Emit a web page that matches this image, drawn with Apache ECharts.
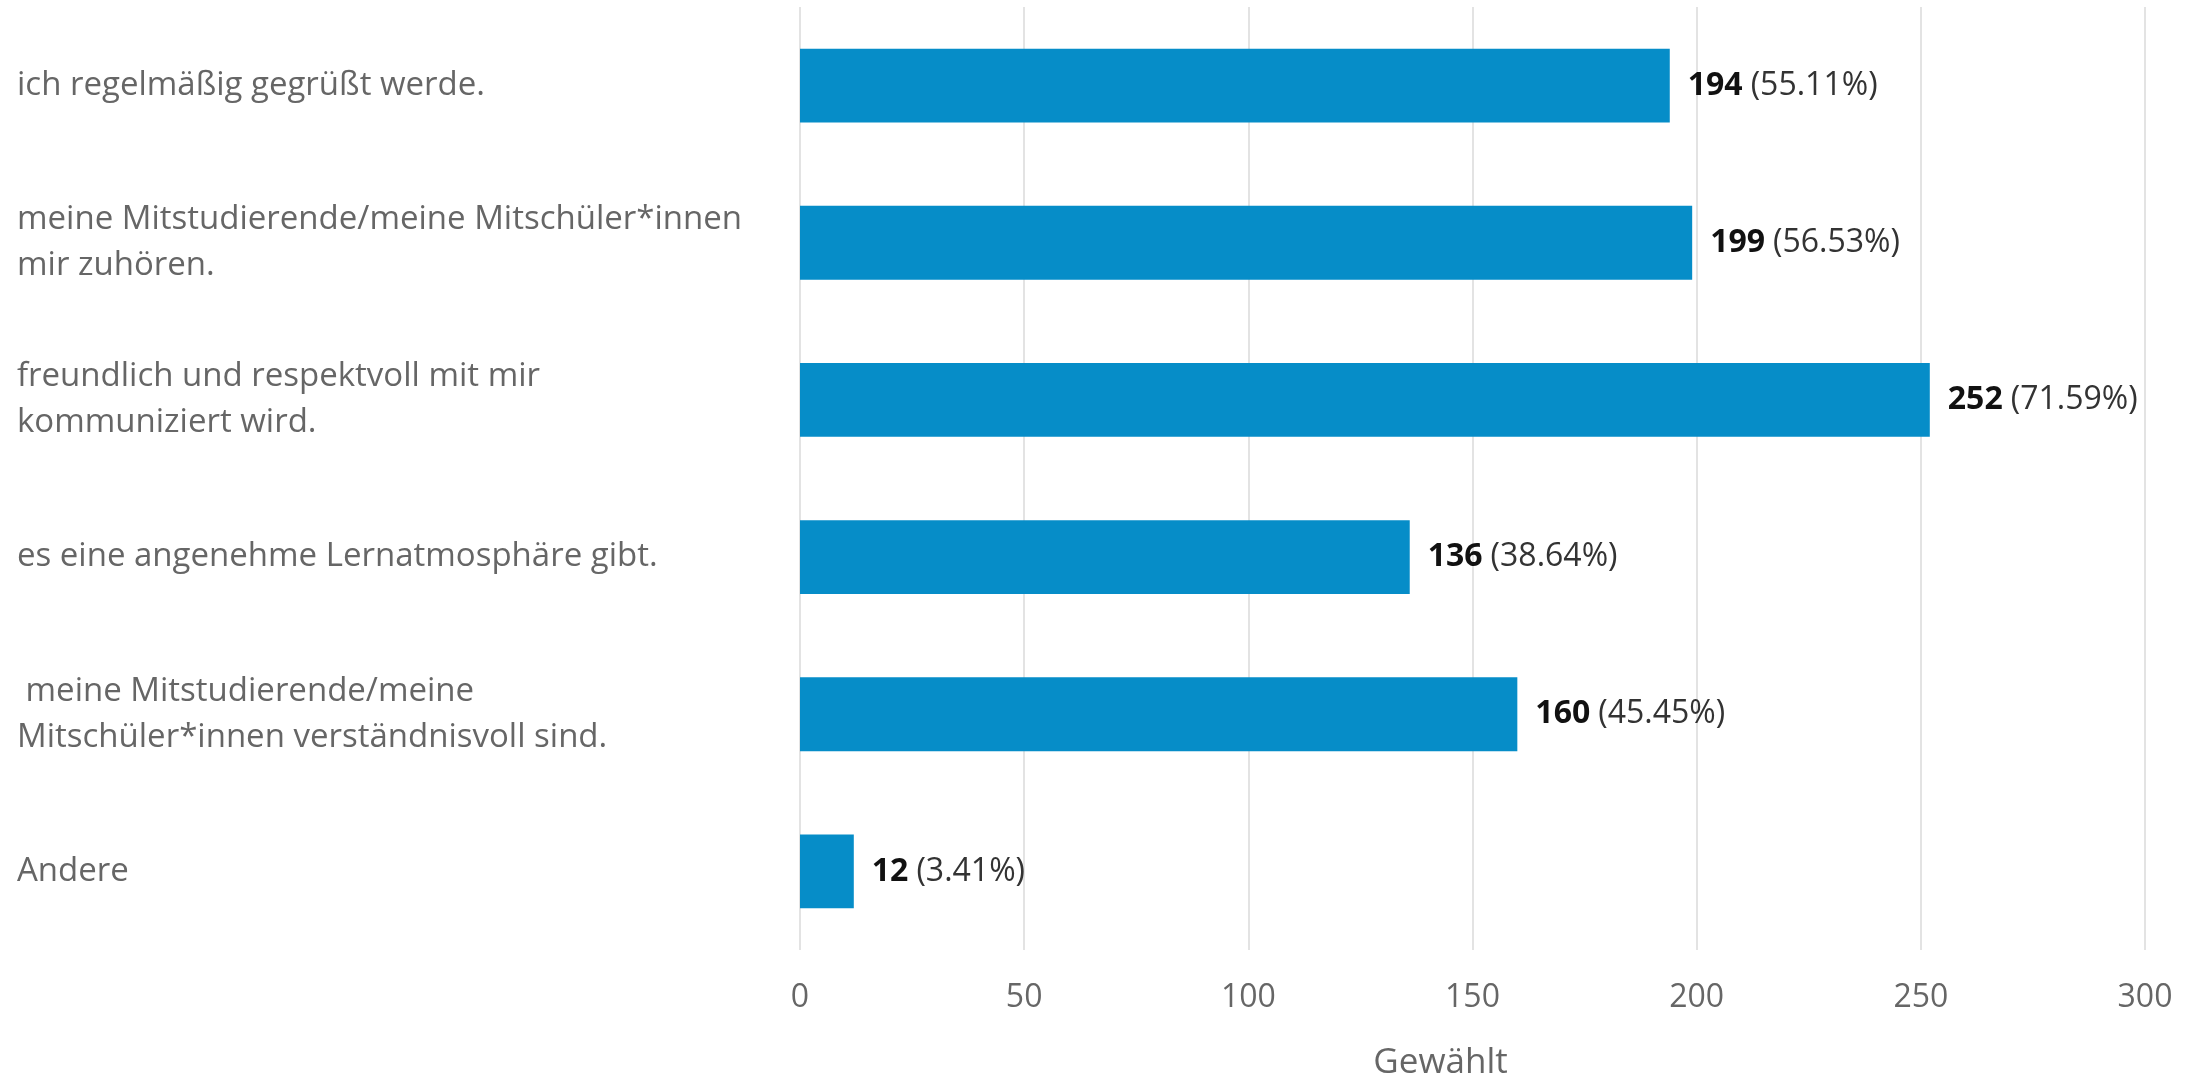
<!DOCTYPE html>
<html>
<head>
<meta charset="utf-8">
<script src="https://cdn.jsdelivr.net/npm/echarts@6/dist/echarts.min.js"></script>
<style>
html,body{margin:0;padding:0;background:#fff;}
#c{width:2193px;height:1078px;}
</style>
</head>
<body>
<div id="c"></div>
<script>
const categories = [
  "ich regelmäßig gegrüßt werde.",
  "meine Mitstudierende/meine Mitschüler*innen\nmir zuhören.",
  "freundlich und respektvoll mit mir\nkommuniziert wird.",
  "es eine angenehme Lernatmosphäre gibt.",
  " meine Mitstudierende/meine\nMitschüler*innen verständnisvoll sind.",
  "Andere"
];
const counts = [194, 199, 252, 136, 160, 12];
const percents = ["55.11%", "56.53%", "71.59%", "38.64%", "45.45%", "3.41%"];
const xTicks = [0, 50, 100, 150, 200, 250, 300];
const axisTitle = "Gewählt";

const FONT = "'Open Sans', sans-serif";
const chart = echarts.init(document.getElementById('c'), null, {renderer: 'canvas'});
chart.setOption({
  backgroundColor: '#ffffff',
  animation: false,
  grid: {left: 800, right: 48, top: 7, bottom: 128, containLabel: false, outerBoundsMode: 'none'},
  xAxis: {
    type: 'value',
    min: xTicks[0],
    max: xTicks[xTicks.length - 1],
    interval: xTicks[1] - xTicks[0],
    axisLine: {show: false},
    axisTick: {show: false},
    splitLine: {show: true, lineStyle: {color: '#e3e3e3', width: 2}},
    axisLabel: {color: '#666666', fontSize: 32, fontFamily: FONT, margin: 32},
    name: axisTitle,
    nameLocation: 'middle',
    nameGap: 96,
    nameTextStyle: {color: '#666666', fontSize: 35, fontFamily: FONT, padding: [0, 64, 0, 0]}
  },
  yAxis: {
    type: 'category',
    data: categories,
    inverse: true,
    axisLine: {show: false},
    axisTick: {show: false},
    splitLine: {show: false},
    axisLabel: {
      color: '#666666', fontSize: 33, fontFamily: FONT,
      align: 'left', margin: 783, lineHeight: 46, padding: [8, 0, 0, 0]
    }
  },
  series: [{
    type: 'bar',
    data: counts,
    barWidth: '47%',
    itemStyle: {color: '#068dc8'},
    label: {
      show: true,
      position: 'right',
      distance: 18,
      formatter: function (p) {
        return '{b|' + p.value + '}{s| }{p|(' + percents[p.dataIndex] + ')}';
      },
      rich: {
        b: {fontWeight: 'bold', color: '#111111', fontSize: 32, fontFamily: FONT},
        s: {fontSize: 32, fontFamily: FONT, width: 8},
        p: {color: '#333333', fontSize: 32, fontFamily: FONT}
      }
    }
  }]
});
</script>
</body>
</html>
